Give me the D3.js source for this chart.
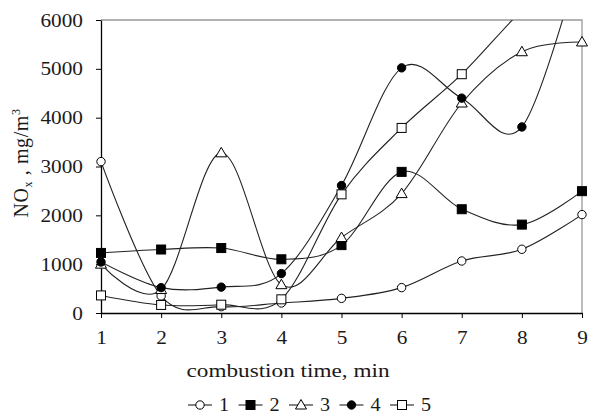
<!DOCTYPE html>
<html>
<head>
<meta charset="utf-8">
<script src="https://cdn.jsdelivr.net/npm/d3@7"></script>
<style>
  body { margin: 0; background: #fff; }
  svg { display: block; font-family: "Liberation Serif", "Times New Roman", serif; }
</style>
</head>
<body>
<div id="chart"></div>
<script>
// combustion time, min
const times = [1, 2, 3, 4, 5, 6, 7, 8, 9];
const yTicks = [0, 1000, 2000, 3000, 4000, 5000, 6000];

// NOx, mg/m3 for each curve
const series1 = [3100, 350, 130, 205, 300, 520, 1065, 1305, 2015];
const series2 = [1230, 1300, 1330, 1100, 1390, 2890, 2125, 1810, 2495];
const series3 = [1000, 480, 3280, 580, 1545, 2445, 4300, 5350, 5550];
const series4 = [1045, 520, 530, 807, 2610, 5020, 4400, 3810, 7400];
const series5 = [360, 165, 170, 280, 2430, 3790, 4890, 6200, 7300];

const seriesList = [
  { name: "1", values: series1, marker: "circle", fill: "#fff" },
  { name: "2", values: series2, marker: "square", fill: "#000" },
  { name: "3", values: series3, marker: "triangle", fill: "#fff" },
  { name: "4", values: series4, marker: "circle", fill: "#000" },
  { name: "5", values: series5, marker: "square", fill: "#fff" }
];

const width = 590, height = 416;
const margin = { top: 20, right: 8, bottom: 103, left: 101 };
const innerW = width - margin.left - margin.right;
const innerH = height - margin.top - margin.bottom;
const stretch = 1.12; // the original text is a bit wider than it is tall

const svg = d3.select("#chart").append("svg")
  .attr("width", width)
  .attr("height", height);

const x = d3.scaleLinear().domain([1, 9]).range([margin.left, margin.left + innerW]);
const y = d3.scaleLinear().domain([0, 6000]).range([margin.top + innerH, margin.top]);

// clip for the curves leaving the top of the plot
svg.append("defs").append("clipPath").attr("id", "plotClip")
  .append("rect")
  .attr("x", margin.left).attr("y", margin.top)
  .attr("width", innerW).attr("height", innerH);

// grey frame on top and right
svg.append("path")
  .attr("d", `M${x(1)},${y(6000)}H${x(9)}V${y(0)}`)
  .attr("fill", "none")
  .attr("stroke", "#999")
  .attr("stroke-width", 1.3);

// axes
const yAxis = d3.axisLeft(y).tickValues(yTicks).tickSize(5).tickSizeOuter(0).tickFormat(d3.format("d"));
const gy = svg.append("g").attr("transform", `translate(${margin.left},0)`).call(yAxis);
gy.attr("font-family", null);
gy.select(".domain").attr("stroke", "#000").attr("stroke-width", 1.3);
gy.selectAll(".tick line").attr("stroke", "#000");
gy.selectAll(".tick text")
  .attr("font-size", 19)
  .attr("fill", "#1a1a1a")
  .attr("x", -18 / stretch)
  .attr("transform", `scale(${stretch},1)`);

const xAxis = d3.axisBottom(x).tickValues(times).tickSize(5).tickSizeOuter(0).tickFormat(d3.format("d"));
const gx = svg.append("g").attr("transform", `translate(0,${margin.top + innerH})`).call(xAxis);
gx.attr("font-family", null);
gx.select(".domain").attr("stroke", "#000").attr("stroke-width", 1.3);
gx.selectAll(".tick line").attr("stroke", "#000");
gx.selectAll(".tick text")
  .attr("font-size", 19)
  .attr("fill", "#1a1a1a")
  .attr("y", 18)
  .attr("transform", `scale(${stretch},1)`);

// axis titles
svg.append("text")
  .attr("x", 288)
  .attr("y", 377)
  .attr("text-anchor", "middle")
  .attr("font-size", 19)
  .attr("fill", "#1a1a1a")
  .attr("textLength", 203)
  .attr("lengthAdjust", "spacingAndGlyphs")
  .text("combustion time, min");

const yTitle = svg.append("text")
  .attr("transform", "translate(28,163) rotate(-90)")
  .attr("text-anchor", "middle")
  .attr("font-size", 20)
  .attr("letter-spacing", 0.6)
  .attr("fill", "#1a1a1a");
yTitle.append("tspan").text("NO");
yTitle.append("tspan").attr("font-size", 12).attr("dy", 4).text("x");
yTitle.append("tspan").attr("dy", -4).text(" , mg/m");
yTitle.append("tspan").attr("font-size", 12).attr("dy", -8).text("3");

// curves
const line = d3.line()
  .x((d, i) => x(times[i]))
  .y(d => y(d))
  .curve(d3.curveCardinal.tension(0));

const plot = svg.append("g").attr("clip-path", "url(#plotClip)");

plot.selectAll(".curve").data(seriesList).enter().append("path")
  .attr("class", "curve")
  .attr("d", d => line(d.values))
  .attr("fill", "none")
  .attr("stroke", "#222")
  .attr("stroke-width", 1.1);

function drawMarker(g, type, fill, cx, cy) {
  if (type === "circle") {
    g.append("circle").attr("cx", cx).attr("cy", cy).attr("r", 4.2)
      .attr("fill", fill).attr("stroke", "#000").attr("stroke-width", 1);
  } else if (type === "square") {
    g.append("rect").attr("x", cx - 4.5).attr("y", cy - 4.5).attr("width", 9).attr("height", 9)
      .attr("fill", fill).attr("stroke", "#000").attr("stroke-width", 1);
  } else {
    g.append("path")
      .attr("d", `M${cx},${cy - 5.5}L${cx + 5.5},${cy + 4}L${cx - 5.5},${cy + 4}Z`)
      .attr("fill", fill).attr("stroke", "#000").attr("stroke-width", 1);
  }
}

const markers = svg.append("g");
seriesList.forEach(s => {
  s.values.forEach((v, i) => {
    if (v > 6000) return;
    drawMarker(markers, s.marker, s.fill, x(times[i]), y(v));
  });
});

// legend
const legend = svg.append("g");
seriesList.forEach((s, i) => {
  const lx = 188 + i * 50.5;
  const ly = 405;
  legend.append("line")
    .attr("x1", lx).attr("x2", lx + 24)
    .attr("y1", ly).attr("y2", ly)
    .attr("stroke", "#222").attr("stroke-width", 1.1);
  drawMarker(legend, s.marker, s.fill, lx + 12, ly);
  legend.append("text")
    .attr("x", (lx + 31) / stretch).attr("y", ly + 6)
    .attr("font-size", 18)
    .attr("fill", "#1a1a1a")
    .attr("transform", `scale(${stretch},1)`)
    .text(s.name);
});
</script>
</body>
</html>
